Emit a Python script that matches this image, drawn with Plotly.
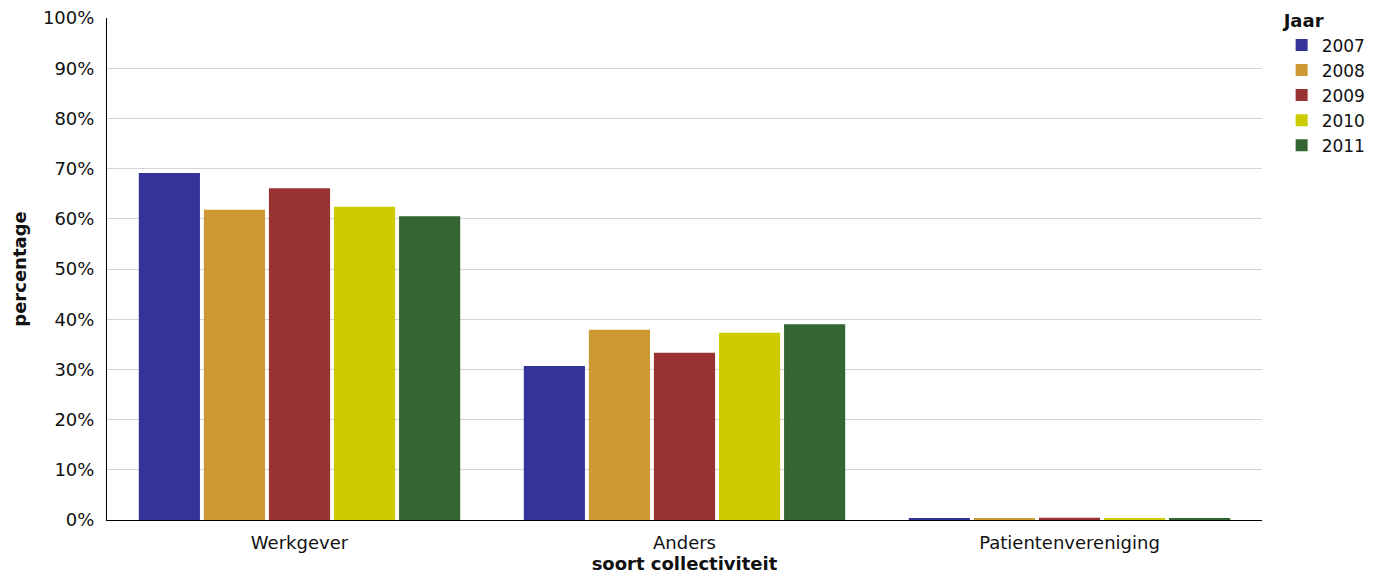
import plotly.graph_objects as go

categories = ["Werkgever", "Anders", "Patientenvereniging"]
years = ["2007", "2008", "2009", "2010", "2011"]
values_2007 = [69.1, 30.7, 0.25]
values_2008 = [61.8, 37.9, 0.25]
values_2009 = [66.1, 33.3, 0.45]
values_2010 = [62.4, 37.3, 0.25]
values_2011 = [60.5, 39.0, 0.25]
colors = ["#333399", "#CC9933", "#993333", "#CCCC00", "#336633"]

series = [values_2007, values_2008, values_2009, values_2010, values_2011]

fig = go.Figure()
for yr, vals, col in zip(years, series, colors):
    fig.add_trace(go.Bar(name=yr, x=categories, y=vals, marker=dict(color=col, line=dict(width=0))))

font_family = "Verdana, DejaVu Sans, sans-serif"
fig.update_layout(
    barmode="group",
    bargap=0.155,
    bargroupgap=0.06,
    width=1382,
    height=577,
    margin=dict(l=107, r=120, t=18, b=57, autoexpand=False),
    plot_bgcolor="white",
    paper_bgcolor="white",
    font=dict(family=font_family, size=18, color="#111111"),
    legend=dict(
        title=dict(text="<b>Jaar</b>", font=dict(size=18)),
        x=1.017, xanchor="left", y=1.028, yanchor="top",
        font=dict(size=17),
        tracegroupgap=0,
    ),
    xaxis=dict(
        title=dict(text="<b>soort collectiviteit</b>", standoff=4, font=dict(size=18)),
        showline=True, linecolor="black", linewidth=1,
        ticks="outside", ticklen=6, tickcolor="rgba(0,0,0,0)",
        tickfont=dict(size=18),
    ),
    yaxis=dict(
        title=dict(text="<b>percentage</b>", standoff=11, font=dict(size=18)),
        range=[0, 100], dtick=10, ticksuffix="%",
        showline=True, linecolor="black", linewidth=1,
        ticks="outside", ticklen=8, tickcolor="rgba(0,0,0,0)",
        gridcolor="#d4d4d4", gridwidth=1,
        tickfont=dict(size=18),
        zeroline=False,
    ),
)

fig.write_html("out.html", config={"displayModeBar": False},
               post_script="document.body.style.margin='0';")
